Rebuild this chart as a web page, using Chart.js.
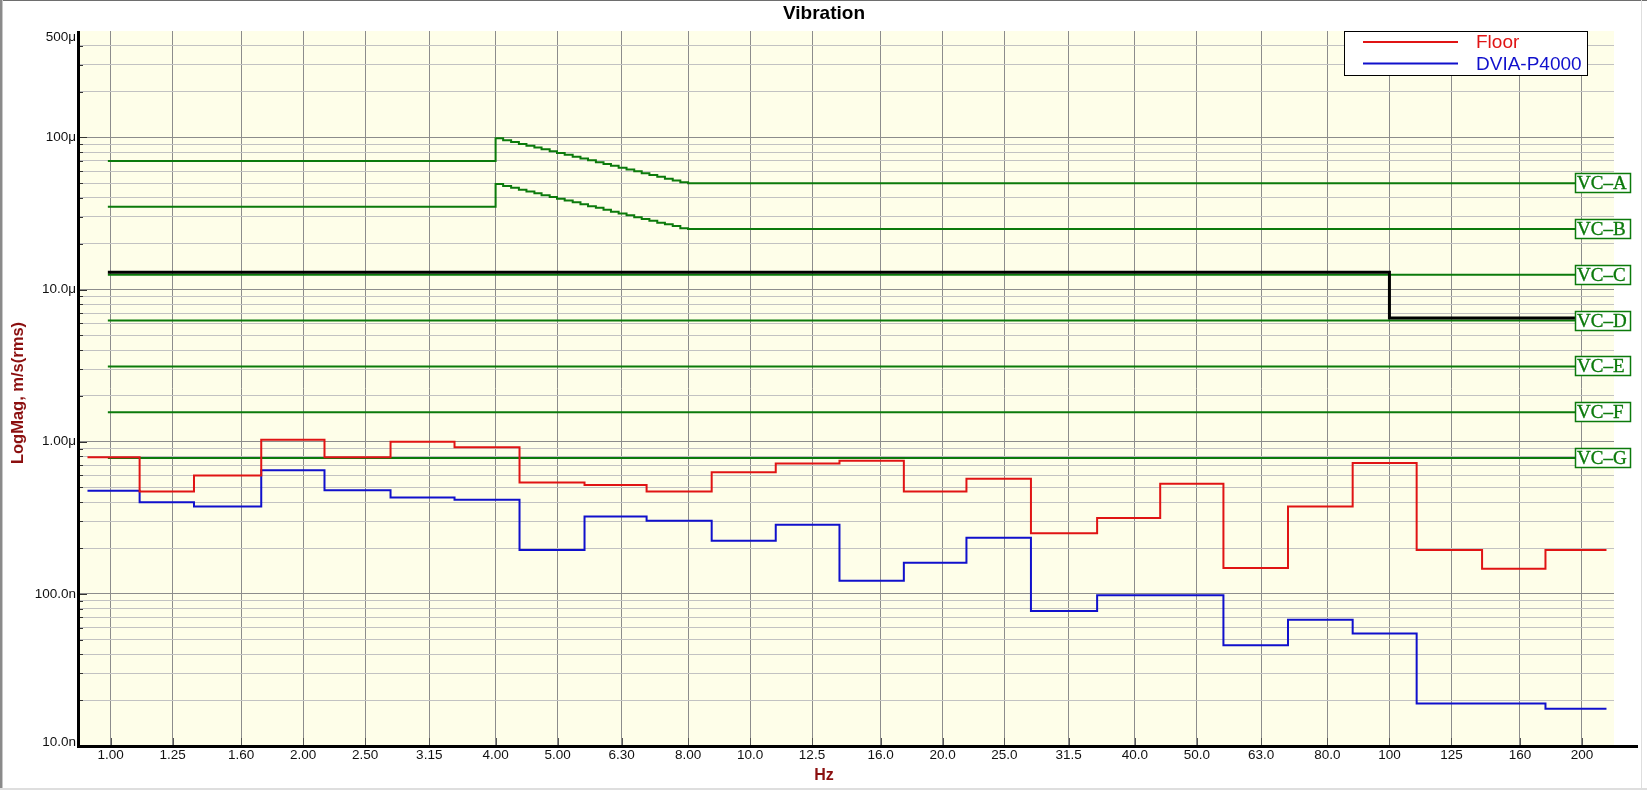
<!DOCTYPE html>
<html><head><meta charset="utf-8">
<script src="https://cdn.jsdelivr.net/npm/chart.js@4.4.1/dist/chart.umd.min.js"></script>
<style>html,body{margin:0;padding:0;background:#fff;overflow:hidden}#wrap{width:1647px;height:790px;position:relative}</style>
</head><body><div id="wrap"><canvas id="c" width="1647" height="790"></canvas></div>
<script>
// ---- data (velocity in μm/s rms, frequency in Hz) ----
const bandLabels = ['1.00','1.25','1.60','2.00','2.50','3.15','4.00','5.00','6.30','8.00','10.0','12.5','16.0','20.0','25.0','31.5','40.0','50.0','63.0','80.0','100','125','160','200'];
const bandEdges = [0.92,1.11,1.35,1.72,2.16,2.74,3.45,4.36,5.51,6.89,8.71,10.97,13.8,17.4,21.8,27.5,34.9,43.8,55.0,69.4,87.6,110.3,139.6,175.4,218.5];
const floorValues = [0.79,0.47,0.60,1.03,0.79,1.00,0.92,0.54,0.52,0.47,0.63,0.72,0.75,0.47,0.57,0.25,0.315,0.53,0.148,0.375,0.725,0.194,0.146,0.194];
const dviaValues = [0.476,0.40,0.375,0.65,0.48,0.43,0.415,0.194,0.322,0.302,0.223,0.284,0.122,0.16,0.234,0.077,0.098,0.098,0.046,0.0675,0.0548,0.019,0.019,0.0176];

const vcABFreq = [0.99,4.0,4.11,4.23,4.35,4.47,4.60,4.72,4.86,4.99,5.13,5.28,5.43,5.58,5.74,5.90,6.06,6.23,6.41,6.59,6.77,6.96,7.16,7.36,7.57,7.78,8.0,224.5];
const vcAValues = [70,98.5,95.8,93.2,90.6,88.2,85.8,83.4,81.1,78.9,76.8,74.7,72.6,70.6,68.7,66.8,65.0,63.2,61.5,59.8,58.2,56.6,55.0,53.5,52.1,50.6,50,50];
const vcBValues = [35,49.3,47.9,46.6,45.3,44.1,42.9,41.7,40.6,39.5,38.4,37.4,36.3,35.3,34.4,33.4,32.5,31.6,30.8,29.9,29.1,28.3,27.5,26.8,26.1,25.3,25,25];
const vcFlatFreq = [0.99,224.5];
const vcLabels = ['VC\u2013A','VC\u2013B','VC\u2013C','VC\u2013D','VC\u2013E','VC\u2013F','VC\u2013G'];
const vcLevels = [50,25,12.5,6.25,3.125,1.5625,0.78];
const specFreq = [0.99,100,224.5];
const specValues = [13,6.5,6.5];

const xTickValues = [1,1.25,1.6,2,2.5,3.15,4,5,6.3,8,10,12.5,16,20,25,31.5,40,50,63,80,100,125,160,200];
const xTickLabels = bandLabels;
const yTickValues = [0.01,0.1,1,10,100,500];
const yTickLabels = ['10.0n','100.0n','1.00\u03bc','10.0\u03bc','100\u03bc','500\u03bc'];
const xMin = 0.8891, xMax = 224.5, yMin = 0.01, yMax = 500;

// ---- helpers ----
const pts = (xs, ys) => xs.map((x, i) => ({x, y: ys[i]}));
const bandSteps = vals => pts(bandEdges.slice(0, vals.length), vals).concat([{x: bandEdges[vals.length], y: vals[vals.length - 1]}]);
const yGridValues = [];
[0.01,0.1,1,10,100].forEach(d => { for (let m = 1; m <= 9; m++) { const v = +(d*m).toPrecision(6); if (v < yMax) yGridValues.push(v); } });
const isDecade = v => Math.abs(Math.log10(v) - Math.round(Math.log10(v))) < 1e-6;

const GREEN = '#0b7a0b', RED = '#e01414', BLUE = '#1010cc', DARKRED = '#8b0f0f';
const FONT = '"Liberation Sans", Arial, sans-serif';

const line = (label, data, color, width) => ({label, data, borderColor: color, borderWidth: width, stepped: true, pointRadius: 0, fill: false, tension: 0});

const datasets = [
  line('spec', pts(specFreq, specValues), '#000000', 3),
  line('Floor', bandSteps(floorValues), RED, 2),
  line('DVIA-P4000', bandSteps(dviaValues), BLUE, 2),
  line('VC-A', pts(vcABFreq, vcAValues), GREEN, 2),
  line('VC-B', pts(vcABFreq, vcBValues), GREEN, 2),
].concat(vcLevels.slice(2).map((v, i) => line(vcLabels[i + 2], pts(vcFlatFreq, [v, v]), GREEN, 2)));

const deco = {
  id: 'deco',
  beforeDraw(chart) {
    const c = chart.ctx, a = chart.chartArea;
    c.save();
    c.fillStyle = '#ffffff'; c.fillRect(0, 0, chart.width, chart.height);
    c.fillStyle = '#fefee9'; c.fillRect(a.left, a.top, a.right - a.left, a.bottom - a.top);
    c.restore();
  },
  afterDraw(chart) {
    const c = chart.ctx, a = chart.chartArea, xs = chart.scales.x, ys = chart.scales.y;
    c.save();
    // inner tick marks
    c.strokeStyle = '#333'; c.lineWidth = 1;
    yGridValues.forEach(v => {
      const y = Math.round(ys.getPixelForValue(v)) + 0.5, len = isDecade(v) ? 9 : 5;
      c.beginPath(); c.moveTo(a.left, y); c.lineTo(a.left + len, y); c.stroke();
    });
    c.strokeStyle = '#555';
    xTickValues.forEach(v => {
      const x = Math.round(xs.getPixelForValue(v)) + 0.5;
      c.beginPath(); c.moveTo(x, a.bottom - 8); c.lineTo(x, a.bottom); c.stroke();
    });
    // axes
    c.fillStyle = '#000';
    c.fillRect(a.left - 1, a.top, 3, a.bottom - a.top + 2);
    c.fillRect(a.left - 1, a.bottom - 1, 1639 - a.left, 3);
    // y tick labels
    c.font = '13.5px ' + FONT; c.fillStyle = '#111'; c.textAlign = 'right'; c.textBaseline = 'middle';
    yTickValues.forEach((v, i) => {
      let y = ys.getPixelForValue(v);
      y = Math.min(Math.max(y, a.top + 6), a.bottom - 4);
      c.fillText(yTickLabels[i], a.left - 2, y);
    });
    // VC labels
    c.font = '19px "Liberation Serif", "Times New Roman", serif';
    c.textAlign = 'left'; c.textBaseline = 'middle';
    vcLevels.forEach((v, i) => {
      const y = Math.round(ys.getPixelForValue(v));
      c.fillStyle = '#ffffff'; c.fillRect(1575, y - 10, 56, 20);
      c.strokeStyle = GREEN; c.lineWidth = 1.5; c.strokeRect(1575.5, y - 9.5, 55, 19);
      c.fillStyle = GREEN; c.fillText(vcLabels[i], 1577, y + 1);
      c.strokeStyle = GREEN; c.lineWidth = 0.35; c.strokeText(vcLabels[i], 1577, y + 1);
    });
    // legend
    c.fillStyle = '#fff'; c.fillRect(1344, 31, 244, 45);
    c.strokeStyle = '#000'; c.lineWidth = 1; c.strokeRect(1344.5, 31.5, 243, 44);
    c.lineWidth = 2;
    [['Floor', RED, 42], ['DVIA-P4000', BLUE, 63.5]].forEach(([t, col, y]) => {
      c.strokeStyle = col; c.beginPath(); c.moveTo(1363, y); c.lineTo(1458, y); c.stroke();
      c.fillStyle = col; c.font = '19px ' + FONT; c.textAlign = 'left'; c.textBaseline = 'middle';
      c.fillText(t, 1476, y + 1);
    });
    // titles
    c.fillStyle = '#000'; c.font = 'bold 19px ' + FONT; c.textAlign = 'center'; c.textBaseline = 'alphabetic';
    c.fillText('Vibration', 824, 19);
    c.fillStyle = DARKRED; c.font = 'bold 16px ' + FONT;
    c.fillText('Hz', 824, 780);
    c.save(); c.translate(18, 393); c.rotate(-Math.PI / 2);
    c.font = 'bold 16.5px ' + FONT; c.textBaseline = 'middle';
    c.fillText('LogMag, m/s(rms)', 0, 0);
    c.restore();
    // window frame
    c.fillStyle = '#6e6e6e'; c.fillRect(0, 0, chart.width, 1);
    c.fillStyle = '#8a8a8a'; c.fillRect(0, 0, 2, chart.height);
    c.fillStyle = '#c8c8c8'; c.fillRect(2, 0, 1, chart.height);
    c.fillStyle = '#dedede'; c.fillRect(0, 788, chart.width, 2); c.fillRect(1641, 0, 1, chart.height);
    c.restore();
  }
};

Chart.defaults.font.family = FONT;
new Chart(document.getElementById('c'), {
  type: 'line',
  data: {datasets},
  options: {
    responsive: false, animation: false, devicePixelRatio: 1,
    layout: {padding: {top: 31, right: 33, bottom: 0, left: 0}},
    plugins: {legend: {display: false}, title: {display: false}, tooltip: {enabled: false}},
    scales: {
      x: {
        type: 'logarithmic', min: xMin, max: xMax,
        afterBuildTicks: s => { s.ticks = xTickValues.map(v => ({value: v})); },
        afterFit: s => { s.height = 44; },
        ticks: {autoSkip: false, maxRotation: 0, padding: 1, color: '#111', font: {size: 13.5},
                callback: (v, i) => xTickLabels[i]},
        grid: {color: '#8c8c8c', lineWidth: 1, drawTicks: false},
        border: {display: false}
      },
      y: {
        type: 'logarithmic', min: yMin, max: yMax,
        afterBuildTicks: s => { s.ticks = yGridValues.map(v => ({value: v})); },
        afterFit: s => { s.width = 78; },
        ticks: {display: false},
        grid: {color: ctx => (ctx.tick && isDecade(ctx.tick.value)) ? '#8c8c8c' : '#c2c2c2', lineWidth: 1, drawTicks: false},
        border: {display: false}
      }
    }
  },
  plugins: [deco]
});
</script></body></html>
